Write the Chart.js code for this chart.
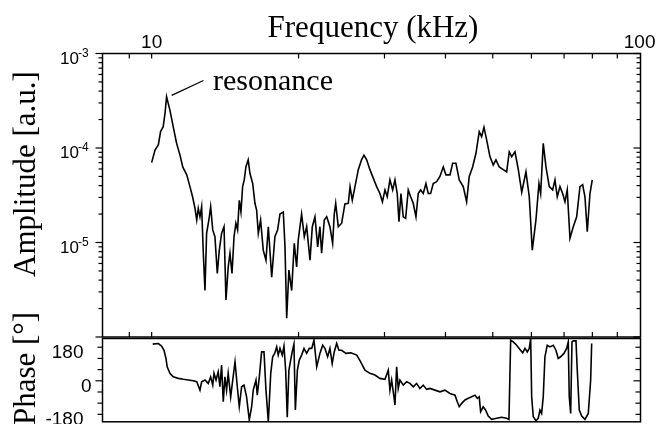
<!DOCTYPE html>
<html><head><meta charset="utf-8">
<script src="https://cdn.jsdelivr.net/npm/chart.js@4.4.1/dist/chart.umd.min.js"></script>
<style>
html,body{margin:0;padding:0;background:#fff;}
#wrap{position:relative;width:663px;height:424px;overflow:hidden;background:#fff;}
canvas{position:absolute;left:0;top:0;}
</style></head><body>
<div id="wrap"><canvas id="amp" width="663" height="424"></canvas><canvas id="pha" width="663" height="424"></canvas></div>
<script>
// ---- data ----
const ampFreq = [10.00,10.16,10.32,10.43,10.56,10.65,10.73,10.90,11.07,11.25,
 11.43,11.58,11.80,11.98,12.13,12.27,12.37,12.46,12.56,12.66,
 12.76,12.86,12.96,13.10,13.21,13.34,13.48,13.63,13.76,13.91,
 14.07,14.20,14.35,14.47,14.61,14.75,14.88,15.00,15.12,15.24,
 15.36,15.48,15.60,15.77,15.90,16.11,16.28,16.41,16.54,16.72,
 16.93,17.15,17.34,17.62,17.89,18.12,18.32,18.61,18.76,18.91,
 19.11,19.36,19.60,19.82,19.97,20.29,20.55,20.78,21.11,21.34,
 21.61,21.89,22.12,22.30,22.58,22.84,23.19,23.49,23.67,23.83,
 24.12,24.51,24.89,25.29,25.50,25.77,26.10,26.51,26.92,27.23,
 27.58,28.01,28.45,28.91,29.36,29.71,30.07,30.39,30.78,31.18,
 31.52,31.86,32.12,32.42,32.78,33.15,33.56,33.94,34.36,34.80,
 35.18,35.58,36.02,36.48,36.88,37.30,37.76,38.37,38.97,39.59,
 40.09,40.86,41.38,42.03,42.69,43.50,44.20,44.75,45.47,46.19,
 46.91,47.44,47.97,48.58,49.34,50.12,50.76,51.56,52.54,53.39,
 54.05,54.67,55.53,56.41,57.33,58.48,59.40,60.25,61.30,62.18,
 62.68,63.45,64.27,65.28,66.33,67.06,67.79,68.66,69.54,70.30,
 71.06,71.98,73.11,74.29,75.45,76.42,77.25,78.10,79.10,79.96];
const ampValue = [7.0e-5,9.5e-5,1.08e-4,1.49e-4,1.68e-4,2.33e-4,3.49e-4,2.52e-4,1.68e-4,1.12e-4,
 8.4e-5,6.3e-5,5.2e-5,3.9e-5,3.05e-5,2.3e-5,1.73e-5,2.3e-5,1.87e-5,2.39e-5,
 7.7e-6,3.1e-6,1.25e-5,1.73e-5,2.39e-5,1.36e-5,1.15e-5,4.7e-6,8.3e-6,1.25e-5,
 1.47e-5,2.46e-6,5.5e-6,7.7e-6,4.7e-6,1.15e-5,1.6e-5,1.36e-5,2.8e-5,2.1e-5,
 3.9e-5,4.6e-5,6.3e-5,7.5e-5,5.4e-5,4.2e-5,2.6e-5,2.2e-5,1.25e-5,1.73e-5,
 8.3e-6,6.5e-6,1.47e-5,4.3e-6,1.15e-5,1.36e-5,2.0e-5,2.1e-5,9.0e-6,1.58e-6,
 5.1e-6,3.1e-6,9.8e-6,5.5e-6,1.06e-5,2.0e-5,1.15e-5,1.47e-5,6.5e-6,1.47e-5,
 1.87e-5,9.0e-6,1.47e-5,7.7e-6,1.73e-5,1.87e-5,1.47e-5,9.8e-6,2.0e-5,2.6e-5,
 1.47e-5,1.6e-5,2.56e-5,2.6e-5,3.9e-5,2.8e-5,3.9e-5,5.9e-5,7.5e-5,8.4e-5,
 7.5e-5,5.9e-5,4.8e-5,3.9e-5,3.3e-5,2.7e-5,3.6e-5,3.05e-5,4.6e-5,3.6e-5,
 4.6e-5,3.3e-5,1.66e-5,3.3e-5,1.87e-5,1.8e-5,3.6e-5,3.05e-5,2.6e-5,1.87e-5,
 3.3e-5,3.6e-5,3.3e-5,4.2e-5,3.3e-5,3.3e-5,4.2e-5,4.4e-5,5.0e-5,6.3e-5,
 5.2e-5,5.2e-5,6.9e-5,6.9e-5,4.6e-5,3.9e-5,2.7e-5,5.0e-5,6.3e-5,8.8e-5,
 1.49e-4,1.32e-4,1.66e-4,1.22e-4,8.1e-5,6.6e-5,7.5e-5,6.3e-5,5.9e-5,5.6e-5,
 9.1e-5,8.1e-5,9.1e-5,5.9e-5,3.4e-5,5.6e-5,3.05e-5,8.3e-6,1.73e-5,4.2e-5,
 3.3e-5,1.12e-4,6.3e-5,3.9e-5,3.6e-5,4.6e-5,3.05e-5,3.9e-5,3.3e-5,2.7e-5,
 3.6e-5,1.11e-5,1.47e-5,1.87e-5,3.9e-5,4.1e-5,3.05e-5,1.3e-5,3.3e-5,4.6e-5];
const phaseFreq = [10.05,10.32,10.48,10.60,10.70,10.76,10.90,11.07,11.34,11.61,
 11.89,12.17,12.37,12.56,12.66,12.86,13.06,13.21,13.34,13.42,
 13.55,13.69,13.80,13.91,14.02,14.13,14.24,14.35,14.52,14.66,
 14.82,14.98,15.12,15.29,15.46,15.65,15.85,16.03,16.15,16.36,
 16.46,16.62,16.80,16.99,17.15,17.34,17.54,17.70,17.87,18.04,
 18.17,18.32,18.52,18.67,18.82,18.96,19.11,19.27,19.41,19.57,
 19.70,19.89,20.07,20.29,20.52,20.78,21.04,21.28,21.51,21.79,
 22.12,22.41,22.65,22.94,23.19,23.44,23.67,23.94,24.20,24.51,
 25.01,25.61,26.32,26.81,27.36,28.01,28.68,29.36,30.07,30.54,
 30.78,31.03,31.37,31.52,31.77,32.01,32.27,32.78,33.31,33.83,
 34.36,34.91,35.46,36.02,36.60,37.18,38.07,38.97,39.90,40.86,
 41.84,42.29,42.69,43.18,43.86,44.56,45.26,45.98,46.48,46.91,
 47.22,47.80,48.35,48.95,49.74,50.92,52.13,53.39,53.97,54.41,
 55.08,55.97,56.85,57.58,58.21,58.85,59.40,59.80,60.08,60.53,
 61.30,61.97,62.47,62.97,63.45,63.96,64.66,65.49,66.52,67.37,
 68.11,68.88,69.96,70.86,71.40,71.74,72.22,72.66,73.11,74.05,
 74.50,75.21,76.07,77.25,78.47,79.36,79.74];
const phaseDeg = [197,200,186,164,120,75,40,21,13,8,
 4,0,-5,-50,-5,4,-14,21,-23,40,
 4,48,-32,84,-112,21,-50,40,-86,4,
 102,-32,-139,-32,-23,-86,-210,-139,-50,4,
 -77,21,155,155,-50,-220,40,129,147,182,
 138,174,138,186,57,-196,57,111,155,197,
 -157,57,111,138,174,147,174,174,218,75,
 147,191,174,129,174,93,155,200,164,164,
 147,150,138,102,57,40,31,13,8,57,
 -50,4,-86,-130,75,-41,4,-23,-5,-14,
 -32,-14,-41,-23,-46,-41,-50,-59,-50,-68,
 -77,-112,-139,-121,-103,-94,-86,-77,-94,-86,
 -166,-139,-157,-189,-207,-201,-196,-201,-207,218,
 209,191,168,150,174,155,174,227,-86,-193,
 -214,-201,-157,-175,-86,129,191,182,191,164,
 120,129,147,174,209,-86,-175,209,214,214,
 57,-157,-189,-207,-175,4,200];

const freqTicks = [9,10,20,30,40,50,60,70,80,90];
const freqLabels = [10,100];
const ampDecades = [1e-6,1e-5,1e-4,1e-3];
const ampMinorMantissa = [2,3,4,5,6,7,8,9];
const ampLabelExp = [-3,-4,-5];
const phaseTicks = [-180,-120,-60,0,60,120,180];
const phaseLabels = [180,0,-180];
const resonanceLine = [[10.99,3.6e-4],[12.77,5.18e-4]];
const resonanceText = [13.36,4.11e-4];

const SANS = '"Liberation Sans", Arial, sans-serif';
const SERIF = '"Liberation Serif", "Times New Roman", serif';

function seg(ctx,x1,y1,x2,y2){ctx.beginPath();ctx.moveTo(x1,y1);ctx.lineTo(x2,y2);ctx.stroke();}
function vtext(ctx,txt,x,y){ctx.save();ctx.translate(x,y);ctx.rotate(-Math.PI/2);ctx.textAlign='center';ctx.textBaseline='alphabetic';ctx.fillText(txt,0,0);ctx.restore();}

const ampAxes = {
  id:'ampAxes',
  afterDatasetsDraw(chart){
    const {ctx, chartArea:a, scales:{x,y}} = chart;
    ctx.save();
    ctx.strokeStyle='#000'; ctx.fillStyle='#000';
    ctx.lineWidth=1.2;
    freqTicks.forEach(v=>{const px=x.getPixelForValue(v); seg(ctx,px,a.top,px,a.top+5); seg(ctx,px,a.bottom,px,a.bottom-5);});
    ampDecades.forEach(d=>{
      const py=y.getPixelForValue(d);
      seg(ctx,a.left-7,py,a.left,py); seg(ctx,a.right-7,py,a.right,py);
      if(d<1e-3) ampMinorMantissa.forEach(m=>{const q=y.getPixelForValue(m*d); seg(ctx,a.left-4,q,a.left,q); seg(ctx,a.right-4,q,a.right,q);});
    });
    ctx.lineWidth=1.5;
    ctx.strokeRect(a.left,a.top,a.right-a.left,a.bottom-a.top);
    // x labels
    ctx.font='19px '+SANS; ctx.textAlign='center'; ctx.textBaseline='alphabetic';
    freqLabels.forEach(v=>ctx.fillText(String(v), x.getPixelForValue(v), a.top-5.5));
    // y labels
    ampLabelExp.forEach(e=>{
      const py=y.getPixelForValue(Math.pow(10,e));
      ctx.font='17px '+SANS; ctx.textAlign='right'; ctx.fillText('10',79,py+10);
      ctx.font='12px '+SANS; ctx.textAlign='left'; ctx.fillText(String(e),78,py+3);
    });
    // titles
    ctx.font='31px '+SERIF; ctx.textAlign='center';
    ctx.fillText('Frequency (kHz)', (a.left+a.right)/2+1.5, a.top-17);
    vtext(ctx,'Amplitude [a.u.]',35,174);
    // annotation
    ctx.lineWidth=1.3;
    seg(ctx,x.getPixelForValue(resonanceLine[0][0]),y.getPixelForValue(resonanceLine[0][1]),
            x.getPixelForValue(resonanceLine[1][0]),y.getPixelForValue(resonanceLine[1][1]));
    ctx.font='30px '+SERIF; ctx.textAlign='left';
    ctx.fillText('resonance', x.getPixelForValue(resonanceText[0]), y.getPixelForValue(resonanceText[1]));
    ctx.restore();
  }
};

const phaseAxes = {
  id:'phaseAxes',
  afterDatasetsDraw(chart){
    const {ctx, chartArea:a, scales:{x,y}} = chart;
    ctx.save();
    ctx.strokeStyle='#000'; ctx.fillStyle='#000';
    ctx.lineWidth=1.2;
    phaseTicks.forEach(v=>{const py=y.getPixelForValue(v); const L=v===0?7:5; seg(ctx,a.left-L,py,a.left,py); seg(ctx,a.right-L,py,a.right,py);});
    ctx.lineWidth=1.5;
    ctx.strokeRect(a.left,a.top,a.right-a.left,a.bottom-a.top);
    ctx.font='19px '+SANS; ctx.textAlign='right'; ctx.textBaseline='alphabetic';
    phaseLabels.forEach(v=>{const py=y.getPixelForValue(v); ctx.fillText(String(v), v===0?91.5:83.5, py+10.8);});
    ctx.font='31px '+SERIF;
    vtext(ctx,'Phase [°]',35,368.5);
    ctx.restore();
  }
};

function baseOptions(padding){
  return {
    responsive:false, animation:false, devicePixelRatio:1, events:[],
    layout:{padding},
    plugins:{legend:{display:false}, tooltip:{enabled:false}},
    elements:{point:{radius:0}, line:{tension:0}}
  };
}

new Chart(document.getElementById('amp'), {
  type:'line',
  data:{datasets:[{data:ampFreq.map((f,i)=>({x:f,y:ampValue[i]})), borderColor:'#000', borderWidth:1.6, pointRadius:0, fill:false}]},
  options:Object.assign(baseOptions({left:102.5,top:53.5,right:22.5,bottom:87}),{
    scales:{
      x:{type:'logarithmic',min:7.93,max:100.4,display:false},
      y:{type:'logarithmic',min:1e-6,max:1e-3,display:false}
    }
  }),
  plugins:[ampAxes]
});

new Chart(document.getElementById('pha'), {
  type:'line',
  data:{datasets:[{data:phaseFreq.map((f,i)=>({x:f,y:phaseDeg[i]})), borderColor:'#000', borderWidth:1.6, pointRadius:0, fill:false}]},
  options:Object.assign(baseOptions({left:102.5,top:338.5,right:22.5,bottom:2.2}),{
    scales:{
      x:{type:'logarithmic',min:7.93,max:100.4,display:false},
      y:{type:'linear',min:-220,max:227,display:false}
    }
  }),
  plugins:[phaseAxes]
});
</script>
</body></html>
